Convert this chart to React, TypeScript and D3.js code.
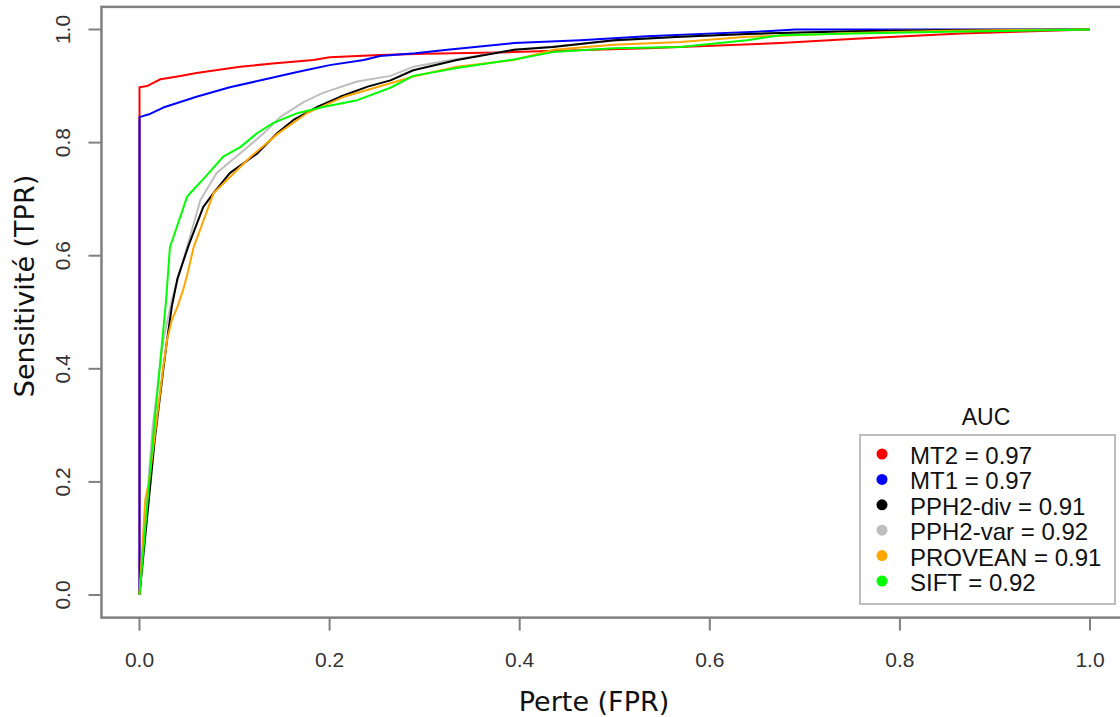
import React from "react";
import * as d3 from "d3";

type Pt = [number, number];

const xTicks = [0, 0.2, 0.4, 0.6, 0.8, 1.0];
const yTicks = [0, 0.2, 0.4, 0.6, 0.8, 1.0];

const seriesNames = ["MT2", "MT1", "PPH2-div", "PPH2-var", "PROVEAN", "SIFT"];
const aucValues = [0.97, 0.97, 0.91, 0.92, 0.91, 0.92];
const seriesColors = ["#FF0000", "#0000FF", "#000000", "#BEBEBE", "#FFA500", "#00FF00"];

const mt2: Pt[] = [[0,0],[0,0.898],[0.008,0.9],[0.015,0.906],[0.022,0.912],[0.04,0.917],[0.06,0.923],[0.08,0.928],[0.106,0.934],[0.14,0.94],[0.183,0.946],[0.2,0.951],[0.253,0.955],[0.3,0.957],[0.393,0.96],[0.45,0.963],[0.534,0.967],[0.674,0.976],[0.758,0.984],[0.864,0.993],[1,1]];
const mt1: Pt[] = [[0,0],[0,0.845],[0.01,0.85],[0.025,0.862],[0.06,0.881],[0.095,0.898],[0.13,0.911],[0.166,0.925],[0.2,0.937],[0.236,0.946],[0.253,0.953],[0.29,0.958],[0.324,0.964],[0.394,0.976],[0.464,0.981],[0.534,0.988],[0.604,0.993],[0.65,0.996],[0.69,1],[1,1]];
const pph2div: Pt[] = [[0,0],[0.016,0.274],[0.025,0.398],[0.029,0.451],[0.034,0.51],[0.04,0.56],[0.051,0.615],[0.067,0.686],[0.078,0.711],[0.095,0.746],[0.124,0.781],[0.145,0.817],[0.162,0.84],[0.187,0.863],[0.211,0.881],[0.24,0.899],[0.264,0.91],[0.288,0.928],[0.334,0.946],[0.394,0.964],[0.435,0.969],[0.499,0.981],[0.569,0.987],[0.639,0.992],[0.674,0.994],[0.75,0.997],[0.85,0.999],[1,1]];
const pph2var: Pt[] = [[0,0],[0.014,0.3],[0.025,0.45],[0.034,0.522],[0.05,0.615],[0.064,0.698],[0.081,0.746],[0.106,0.781],[0.131,0.817],[0.148,0.845],[0.173,0.872],[0.193,0.888],[0.229,0.908],[0.264,0.918],[0.288,0.934],[0.334,0.948],[0.394,0.964],[0.435,0.97],[0.499,0.98],[0.569,0.987],[0.639,0.992],[0.674,0.994],[0.75,0.997],[0.85,0.999],[1,1]];
const provean: Pt[] = [[0,0],[0.006,0.168],[0.01,0.2],[0.025,0.403],[0.029,0.451],[0.034,0.486],[0.04,0.51],[0.046,0.54],[0.05,0.565],[0.057,0.615],[0.078,0.711],[0.117,0.775],[0.145,0.815],[0.176,0.852],[0.215,0.881],[0.264,0.905],[0.288,0.917],[0.334,0.934],[0.394,0.946],[0.435,0.964],[0.499,0.973],[0.569,0.978],[0.639,0.987],[0.674,0.989],[0.75,0.994],[0.85,0.998],[1,1]];
const sift: Pt[] = [[0,0],[0.014,0.274],[0.028,0.522],[0.032,0.615],[0.05,0.704],[0.053,0.71],[0.069,0.739],[0.088,0.775],[0.106,0.792],[0.124,0.817],[0.141,0.835],[0.166,0.852],[0.193,0.863],[0.229,0.875],[0.264,0.897],[0.288,0.918],[0.334,0.932],[0.394,0.947],[0.435,0.96],[0.499,0.967],[0.569,0.969],[0.639,0.981],[0.674,0.99],[0.75,0.993],[0.85,0.996],[1,1]];

const seriesData: Pt[][] = [mt2, mt1, pph2div, pph2var, provean, sift];
const drawOrder = [0, 1, 3, 2, 4, 5];

const W = 1120;
const H = 717;

export default function App() {
  const x = d3.scaleLinear().domain([0, 1]).range([139.5, 1090]);
  const y = d3.scaleLinear().domain([0, 1]).range([595, 29.5]);
  const line = d3.line<Pt>().x((d) => x(d[0])).y((d) => y(d[1]));

  const fx0 = x(-0.04), fx1 = x(1.04), fy0 = y(-0.04), fy1 = y(1.04);
  const frameColor = "#808080";
  const tickFont = "'Liberation Sans', Arial, sans-serif";
  const titleFont = "'DejaVu Sans', Verdana, sans-serif";

  const legX = 860, legY = 435, legW = 255, legH = 169;
  const rowStart = 464, rowStep = 25.4;

  return (
    <svg width={W} height={H} style={{ position: "absolute", left: 0, top: 0, background: "#fff" }}>
      <rect x={0} y={0} width={W} height={H} fill="#fff" />
      <g fill="none" strokeWidth={2} strokeLinejoin="round">
        {drawOrder.map((i) => (
          <path key={i} d={line(seriesData[i]) || ""} stroke={seriesColors[i]} />
        ))}
      </g>
      <rect x={fx0} y={fy1} width={fx1 - fx0} height={fy0 - fy1} fill="none" stroke={frameColor} strokeWidth={2.5} />
      <g>
        {xTicks.map((t) => (
          <g key={t}>
            <line x1={x(t)} x2={x(t)} y1={fy0} y2={fy0 + 13} stroke={frameColor} strokeWidth={2} />
            <text x={x(t)} y={667} textAnchor="middle" fontFamily={tickFont} fontSize={21} fill="#333">
              {d3.format(".1f")(t)}
            </text>
          </g>
        ))}
      </g>
      <g>
        {yTicks.map((t) => (
          <g key={t}>
            <line x1={fx0} x2={fx0 - 13} y1={y(t)} y2={y(t)} stroke={frameColor} strokeWidth={2} />
            <text
              transform={`translate(70,${y(t)}) rotate(-90)`}
              textAnchor="middle"
              fontFamily={tickFont}
              fontSize={21}
              fill="#333"
            >
              {d3.format(".1f")(t)}
            </text>
          </g>
        ))}
      </g>
      <text x={594} y={711} textAnchor="middle" fontFamily={titleFont} fontSize={27} fill="#111">
        Perte (FPR)
      </text>
      <text transform={`translate(34,286) rotate(-90)`} textAnchor="middle" fontFamily={titleFont} fontSize={27} fill="#111">
        Sensitivité (TPR)
      </text>
      <text x={986} y={425} textAnchor="middle" fontFamily={tickFont} fontSize={23} fill="#111">
        AUC
      </text>
      <rect x={legX} y={legY} width={legW} height={legH} fill="#fff" stroke="#bdbdbd" strokeWidth={2} />
      {seriesNames.map((n, i) => (
        <g key={n}>
          <circle cx={882} cy={rowStart + i * rowStep - 10} r={5.5} fill={seriesColors[i]} />
          <text x={910} y={rowStart + i * rowStep} fontFamily={tickFont} fontSize={24} fill="#111">
            {`${n} = ${aucValues[i].toFixed(2)}`}
          </text>
        </g>
      ))}
    </svg>
  );
}
